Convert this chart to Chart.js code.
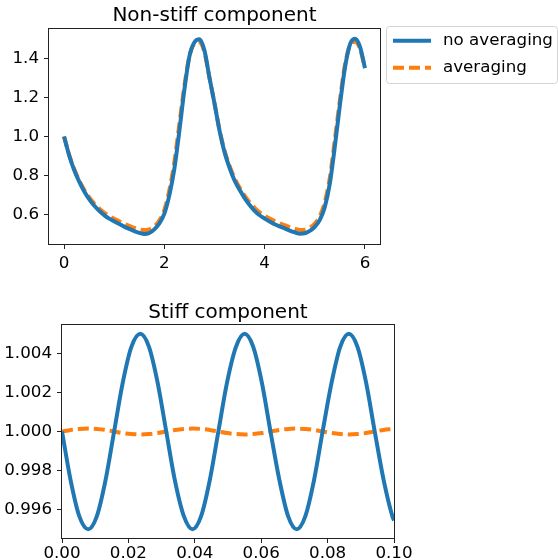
<!DOCTYPE html>
<html>
<head>
<meta charset="utf-8">
<script src="https://cdn.jsdelivr.net/npm/chart.js@4.4.0/dist/chart.umd.min.js"></script>
<style>
  body { margin: 0; background: #fff; }
  canvas { position: absolute; left: 0; }
  #top { top: 0; }
  #bottom { top: 290px; }
</style>
</head>
<body>
<canvas id="top" width="558" height="290"></canvas>
<canvas id="bottom" width="558" height="270"></canvas>
<script>
// non-stiff component
const nonStiffT = [0.0, 0.1, 0.2, 0.3, 0.4, 0.5, 0.6, 0.7, 0.8, 0.9,
	1.0, 1.1, 1.2, 1.3, 1.4, 1.5, 1.6, 1.7, 1.8, 1.9,
	2.0, 2.1, 2.2, 2.3, 2.4, 2.5, 2.6, 2.7, 2.8, 2.9,
	3.0, 3.1, 3.2, 3.3, 3.4, 3.5, 3.6, 3.7, 3.8, 3.9,
	4.0, 4.1, 4.2, 4.3, 4.4, 4.5, 4.6, 4.7, 4.8, 4.9,
	5.0, 5.1, 5.2, 5.3, 5.4, 5.5, 5.6, 5.7, 5.8, 5.9, 6.0];
const nonStiffNoAvg = [1.000, 0.905, 0.830, 0.770, 0.720, 0.680, 0.647, 0.620, 0.598, 0.580,
	0.566, 0.552, 0.539, 0.527, 0.516, 0.507, 0.501, 0.506, 0.525, 0.555,
	0.605, 0.700, 0.835, 1.030, 1.240, 1.410, 1.482, 1.497, 1.440, 1.300,
	1.170, 1.030, 0.920, 0.840, 0.775, 0.727, 0.685, 0.650, 0.620, 0.597,
	0.580, 0.565, 0.551, 0.540, 0.530, 0.519, 0.510, 0.503, 0.505, 0.517,
	0.538, 0.573, 0.640, 0.760, 0.950, 1.160, 1.350, 1.470, 1.500, 1.460, 1.350];
const nonStiffAvg = [1.000, 0.908, 0.835, 0.777, 0.729, 0.690, 0.658, 0.632, 0.611, 0.594,
	0.579, 0.566, 0.554, 0.543, 0.533, 0.525, 0.521, 0.525, 0.540, 0.570,
	0.625, 0.725, 0.870, 1.065, 1.260, 1.410, 1.475, 1.483, 1.430, 1.300,
	1.170, 1.035, 0.928, 0.850, 0.787, 0.739, 0.698, 0.664, 0.635, 0.612,
	0.595, 0.580, 0.567, 0.556, 0.546, 0.536, 0.528, 0.522, 0.523, 0.533,
	0.555, 0.593, 0.665, 0.790, 0.985, 1.185, 1.365, 1.465, 1.485, 1.450, 1.350];
const nonStiffXTicks = [0, 2, 4, 6];
const nonStiffYTicks = [0.6, 0.8, 1.0, 1.2, 1.4];

// stiff component
const stiffT = [0.0000, 0.0026, 0.0052, 0.0079, 0.0105, 0.0131, 0.0157, 0.0183, 0.0209, 0.0236,
	0.0262, 0.0288, 0.0314, 0.0340, 0.0367, 0.0393, 0.0419, 0.0445, 0.0471, 0.0497,
	0.0524, 0.0550, 0.0576, 0.0602, 0.0628, 0.0655, 0.0681, 0.0707, 0.0733, 0.0759,
	0.0785, 0.0812, 0.0838, 0.0864, 0.0890, 0.0916, 0.0942, 0.0969, 0.0995, 0.1000];
const stiffNoAvg = [1.0000, 0.9975, 0.99567, 0.9950, 0.99567, 0.9975, 1.0000, 1.0025, 1.00433, 1.0050,
	1.00433, 1.0025, 1.0000, 0.9975, 0.99567, 0.9950, 0.99567, 0.9975, 1.0000, 1.0025,
	1.00433, 1.0050, 1.00433, 1.0025, 1.0000, 0.9975, 0.99567, 0.9950, 0.99567, 0.9975,
	1.0000, 1.0025, 1.00433, 1.0050, 1.00433, 1.0025, 1.0000, 0.9975, 0.99567, 0.99545];
const stiffAvg = [1.00000, 1.00008, 1.00013, 1.00015, 1.00013, 1.00008, 1.00000, 0.99992, 0.99987, 0.99985,
	0.99987, 0.99992, 1.00000, 1.00008, 1.00013, 1.00015, 1.00013, 1.00008, 1.00000, 0.99992,
	0.99987, 0.99985, 0.99987, 0.99992, 1.00000, 1.00008, 1.00013, 1.00015, 1.00013, 1.00008,
	1.00000, 0.99992, 0.99987, 0.99985, 0.99987, 0.99992, 1.00000, 1.00008, 1.00013, 1.00014];
const stiffXTicks = [0, 0.02, 0.04, 0.06, 0.08, 0.1];
const stiffYTicks = [0.996, 0.998, 1.000, 1.002, 1.004];

const seriesNames = ['no averaging', 'averaging'];
const blue = '#1f77b4';
const orange = '#ff7f0e';

Chart.defaults.font.family = '"DejaVu Sans", sans-serif';
Chart.defaults.font.size = 16.7;
Chart.defaults.color = '#000';

function toPoints(xs, ys) {
	return xs.map((x, i) => ({ x: x, y: ys[i] }));
}

function lineSet(label, xs, ys, color, dash) {
	return {
		label: label,
		data: toPoints(xs, ys),
		borderColor: color,
		backgroundColor: color,
		borderWidth: 4,
		borderDash: dash,
		borderJoinStyle: 'round',
		pointRadius: 0,
		cubicInterpolationMode: 'monotone',
		clip: 0,
	};
}

function axis(min, max, tickValues, digits, fit, pad) {
	return {
		type: 'linear',
		min: min,
		max: max,
		afterBuildTicks: (s) => { s.ticks = tickValues.map((v) => ({ value: v })); },
		afterFit: fit,
		border: { display: false },
		grid: { drawOnChartArea: false, drawTicks: true, tickLength: 5, color: '#222', lineWidth: 1 },
		ticks: { padding: pad, autoSkip: false, maxRotation: 0, callback: (v) => Number(v).toFixed(digits) },
	};
}

// matplotlib-like box round the axes
const frame = {
	id: 'frame',
	afterDatasetsDraw(chart) {
		const { ctx, chartArea: a } = chart;
		ctx.save();
		ctx.strokeStyle = '#222';
		ctx.lineWidth = 1;
		ctx.strokeRect(Math.round(a.left) - 0.5, Math.round(a.top) - 0.5,
			Math.round(a.right - a.left) + 1, Math.round(a.bottom - a.top) + 1);
		ctx.restore();
	},
};

// legend outside the axes, upper right
const outsideLegend = {
	id: 'outsideLegend',
	afterDraw(chart) {
		const ctx = chart.ctx;
		const x = 386, y = 26, w = 171, h = 57;
		ctx.save();
		ctx.beginPath();
		ctx.roundRect(x + 0.5, y + 0.5, w, h, 3);
		ctx.fillStyle = 'rgba(255,255,255,0.8)';
		ctx.fill();
		ctx.strokeStyle = '#d4d4d4';
		ctx.lineWidth = 1;
		ctx.stroke();
		chart.data.datasets.forEach((ds, i) => {
			const ly = y + 14.7 + i * 27;
			ctx.beginPath();
			ctx.setLineDash(ds.borderDash || []);
			ctx.strokeStyle = ds.borderColor;
			ctx.lineWidth = ds.borderWidth;
			ctx.moveTo(x + 7, ly);
			ctx.lineTo(x + 45, ly);
			ctx.stroke();
			ctx.setLineDash([]);
			ctx.fillStyle = '#000';
			ctx.font = '16.7px "DejaVu Sans"';
			ctx.textBaseline = 'middle';
			ctx.fillText(ds.label, x + 57, ly);
		});
		ctx.restore();
	},
};

new Chart(document.getElementById('top'), {
	type: 'line',
	data: {
		datasets: [
			lineSet(seriesNames[0], nonStiffT, nonStiffNoAvg, blue, []),
			lineSet(seriesNames[1], nonStiffT, nonStiffAvg, orange, [11, 5]),
		],
	},
	options: {
		responsive: false,
		animation: false,
		layout: { padding: { right: 178 } },
		plugins: {
			legend: { display: false },
			tooltip: { enabled: false },
			title: {
				display: true,
				text: 'Non-stiff component',
				fullSize: false,
				font: { size: 20, weight: 'normal' },
				padding: { top: 3.5, bottom: 1.5 },
			},
		},
		scales: {
			x: axis(-0.3, 6.3, nonStiffXTicks, 0, (s) => { s.height = 46; }, 5),
			y: axis(0.45, 1.55, nonStiffYTicks, 1, (s) => { s.width = 49; }, 5),
		},
	},
	plugins: [frame, outsideLegend],
});

new Chart(document.getElementById('bottom'), {
	type: 'line',
	data: {
		datasets: [
			lineSet(seriesNames[0], stiffT, stiffNoAvg, blue, []),
			lineSet(seriesNames[1], stiffT, stiffAvg, orange, [11, 5]),
		],
	},
	options: {
		responsive: false,
		animation: false,
		layout: { padding: { right: 164 } },
		plugins: {
			legend: { display: false },
			tooltip: { enabled: false },
			title: {
				display: true,
				text: 'Stiff component',
				fullSize: false,
				font: { size: 20, weight: 'normal' },
				padding: { top: 10.8, bottom: 0.2 },
			},
		},
		scales: {
			x: axis(0, 0.1, stiffXTicks, 2, (s) => { s.height = 22; }, 1),
			y: axis(0.99455, 1.00545, stiffYTicks, 3, (s) => { s.width = 62; }, 5),
		},
	},
	plugins: [frame],
});
</script>
</body>
</html>
